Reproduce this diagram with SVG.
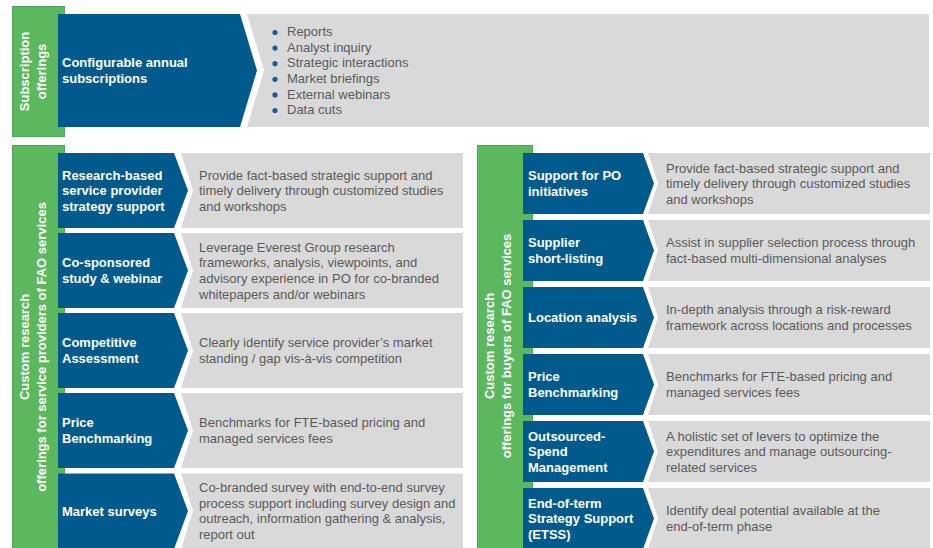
<svg xmlns="http://www.w3.org/2000/svg" width="933" height="548" viewBox="0 0 933 548">
<style>
.green{fill:#5CB85F;stroke:#4FA653;stroke-width:1}
.blue{fill:#005A8C}
.gray{fill:#D9D9D9}
.lbl{font-family:"Liberation Sans",Arial,sans-serif;font-size:13px;font-weight:bold;fill:#FFFFFF}
.grp{font-family:"Liberation Sans",Arial,sans-serif;font-size:13px;font-weight:bold;fill:#FFFFFF;text-anchor:middle}
.desc{font-family:"Liberation Sans",Arial,sans-serif;font-size:13px;fill:#595959}
.dot{fill:#1F5C96}
</style>
<rect width="933" height="548" fill="#FFFFFF"/>

<g id="group-subscription">
<rect class="green" x="12.5" y="6.5" width="52" height="130"/>
<text class="grp" transform="translate(29,71.5) rotate(-90)">Subscription</text>
<text class="grp" transform="translate(46,71.5) rotate(-90)">offerings</text>
</g>
<g id="node-subscriptions">
<path class="gray" d="M247,14 L929,14 L929,127 L247,127 L264,70.5 Z"/>
<path class="blue" d="M58,14 L240,14 L257,70.5 L240,127 L58,127 Z"/>
<text class="lbl" x="62" y="67.3">Configurable annual</text>
<text class="lbl" x="62" y="82.9">subscriptions</text>
<circle class="dot" cx="275" cy="32.5" r="2.6"/>
<circle class="dot" cx="275" cy="48.1" r="2.6"/>
<circle class="dot" cx="275" cy="63.7" r="2.6"/>
<circle class="dot" cx="275" cy="79.3" r="2.6"/>
<circle class="dot" cx="275" cy="94.9" r="2.6"/>
<circle class="dot" cx="275" cy="110.5" r="2.6"/>
<text class="desc" x="287" y="36.1">Reports</text>
<text class="desc" x="287" y="51.7">Analyst inquiry</text>
<text class="desc" x="287" y="67.3">Strategic interactions</text>
<text class="desc" x="287" y="82.9">Market briefings</text>
<text class="desc" x="287" y="98.5">External webinars</text>
<text class="desc" x="287" y="114.1">Data cuts</text>
</g>

<g id="group-providers">
<rect class="green" x="12.5" y="145.5" width="52" height="405"/>
<text class="grp" transform="translate(29,347) rotate(-90)">Custom research</text>
<text class="grp" transform="translate(46,347) rotate(-90)">offerings for service providers of FAO services</text>
</g>

<g id="node-l1">
<path class="gray" d="M181,153 L463,153 L463,228 L181,228 L193,190.5 Z"/>
<path class="blue" d="M58,153 L174,153 L188,190.5 L174,228 L58,228 Z"/>
<text class="lbl" x="62" y="179.5">Research-based</text>
<text class="lbl" x="62" y="195.1">service provider</text>
<text class="lbl" x="62" y="210.7">strategy support</text>
<text class="desc" x="199" y="179.5">Provide fact-based strategic support and</text>
<text class="desc" x="199" y="195.1">timely delivery through customized studies</text>
<text class="desc" x="199" y="210.7">and workshops</text>
</g>
<g id="node-l2">
<path class="gray" d="M181,233 L463,233 L463,308 L181,308 L193,270.5 Z"/>
<path class="blue" d="M58,233 L174,233 L188,270.5 L174,308 L58,308 Z"/>
<text class="lbl" x="62" y="267.3">Co-sponsored</text>
<text class="lbl" x="62" y="282.9">study &amp; webinar</text>
<text class="desc" x="199" y="251.7">Leverage Everest Group research</text>
<text class="desc" x="199" y="267.3">frameworks, analysis, viewpoints, and</text>
<text class="desc" x="199" y="282.9">advisory experience in PO for co-branded</text>
<text class="desc" x="199" y="298.5">whitepapers and/or webinars</text>
</g>
<g id="node-l3">
<path class="gray" d="M181,313 L463,313 L463,388 L181,388 L193,350.5 Z"/>
<path class="blue" d="M58,313 L174,313 L188,350.5 L174,388 L58,388 Z"/>
<text class="lbl" x="62" y="347.3">Competitive</text>
<text class="lbl" x="62" y="362.9">Assessment</text>
<text class="desc" x="199" y="347.3">Clearly identify service provider’s market</text>
<text class="desc" x="199" y="362.9">standing / gap vis-à-vis competition</text>
</g>
<g id="node-l4">
<path class="gray" d="M181,393 L463,393 L463,468 L181,468 L193,430.5 Z"/>
<path class="blue" d="M58,393 L174,393 L188,430.5 L174,468 L58,468 Z"/>
<text class="lbl" x="62" y="427.3">Price</text>
<text class="lbl" x="62" y="442.9">Benchmarking</text>
<text class="desc" x="199" y="427.3">Benchmarks for FTE-based pricing and</text>
<text class="desc" x="199" y="442.9">managed services fees</text>
</g>
<g id="node-l5">
<path class="gray" d="M181,473.5 L463,473.5 L463,549 L181,549 L193,511 Z"/>
<path class="blue" d="M58,473.5 L174,473.5 L188,511 L174,549 L58,549 Z"/>
<text class="lbl" x="62" y="515.6">Market surveys</text>
<text class="desc" x="199" y="492.2">Co-branded survey with end-to-end survey</text>
<text class="desc" x="199" y="507.8">process support including survey design and</text>
<text class="desc" x="199" y="523.4">outreach, information gathering &amp; analysis,</text>
<text class="desc" x="199" y="539">report out</text>
</g>

<g id="group-buyers">
<rect class="green" x="477.5" y="145.5" width="55" height="405"/>
<text class="grp" transform="translate(494,346) rotate(-90)">Custom research</text>
<text class="grp" transform="translate(511,346) rotate(-90)">offerings for buyers of FAO services</text>
</g>

<g id="node-r1">
<path class="gray" d="M648,153 L930,153 L930,214 L648,214 L658,183.5 Z"/>
<path class="blue" d="M523,153 L643,153 L654,183.5 L643,214 L523,214 Z"/>
<text class="lbl" x="528" y="180.3">Support for PO</text>
<text class="lbl" x="528" y="195.9">initiatives</text>
<text class="desc" x="666" y="172.5">Provide fact-based strategic support and</text>
<text class="desc" x="666" y="188.1">timely delivery through customized studies</text>
<text class="desc" x="666" y="203.7">and workshops</text>
</g>
<g id="node-r2">
<path class="gray" d="M648,220 L930,220 L930,281 L648,281 L658,250.5 Z"/>
<path class="blue" d="M523,220 L643,220 L654,250.5 L643,281 L523,281 Z"/>
<text class="lbl" x="528" y="247.3">Supplier</text>
<text class="lbl" x="528" y="262.9">short-listing</text>
<text class="desc" x="666" y="247.3">Assist in supplier selection process through</text>
<text class="desc" x="666" y="262.9">fact-based multi-dimensional analyses</text>
</g>
<g id="node-r3">
<path class="gray" d="M648,287 L930,287 L930,348 L648,348 L658,317.5 Z"/>
<path class="blue" d="M523,287 L643,287 L654,317.5 L643,348 L523,348 Z"/>
<text class="lbl" x="528" y="322.1">Location analysis</text>
<text class="desc" x="666" y="314.3">In-depth analysis through a risk-reward</text>
<text class="desc" x="666" y="329.9">framework across locations and processes</text>
</g>
<g id="node-r4">
<path class="gray" d="M648,354 L930,354 L930,415 L648,415 L658,384.5 Z"/>
<path class="blue" d="M523,354 L643,354 L654,384.5 L643,415 L523,415 Z"/>
<text class="lbl" x="528" y="381.3">Price</text>
<text class="lbl" x="528" y="396.9">Benchmarking</text>
<text class="desc" x="666" y="381.3">Benchmarks for FTE-based pricing and</text>
<text class="desc" x="666" y="396.9">managed services fees</text>
</g>
<g id="node-r5">
<path class="gray" d="M648,421 L930,421 L930,482 L648,482 L658,451.5 Z"/>
<path class="blue" d="M523,421 L643,421 L654,451.5 L643,482 L523,482 Z"/>
<text class="lbl" x="528" y="440.5">Outsourced-</text>
<text class="lbl" x="528" y="456.1">Spend</text>
<text class="lbl" x="528" y="471.7">Management</text>
<text class="desc" x="666" y="440.5">A holistic set of levers to optimize the</text>
<text class="desc" x="666" y="456.1">expenditures and manage outsourcing-</text>
<text class="desc" x="666" y="471.7">related services</text>
</g>
<g id="node-r6">
<path class="gray" d="M648,488 L930,488 L930,549 L648,549 L658,518.5 Z"/>
<path class="blue" d="M523,488 L643,488 L654,518.5 L643,549 L523,549 Z"/>
<text class="lbl" x="528" y="507.5">End-of-term</text>
<text class="lbl" x="528" y="523.1">Strategy Support</text>
<text class="lbl" x="528" y="538.7">(ETSS)</text>
<text class="desc" x="666" y="515.3">Identify deal potential available at the</text>
<text class="desc" x="666" y="530.9">end-of-term phase</text>
</g>

<g id="connectors"></g>
</svg>
